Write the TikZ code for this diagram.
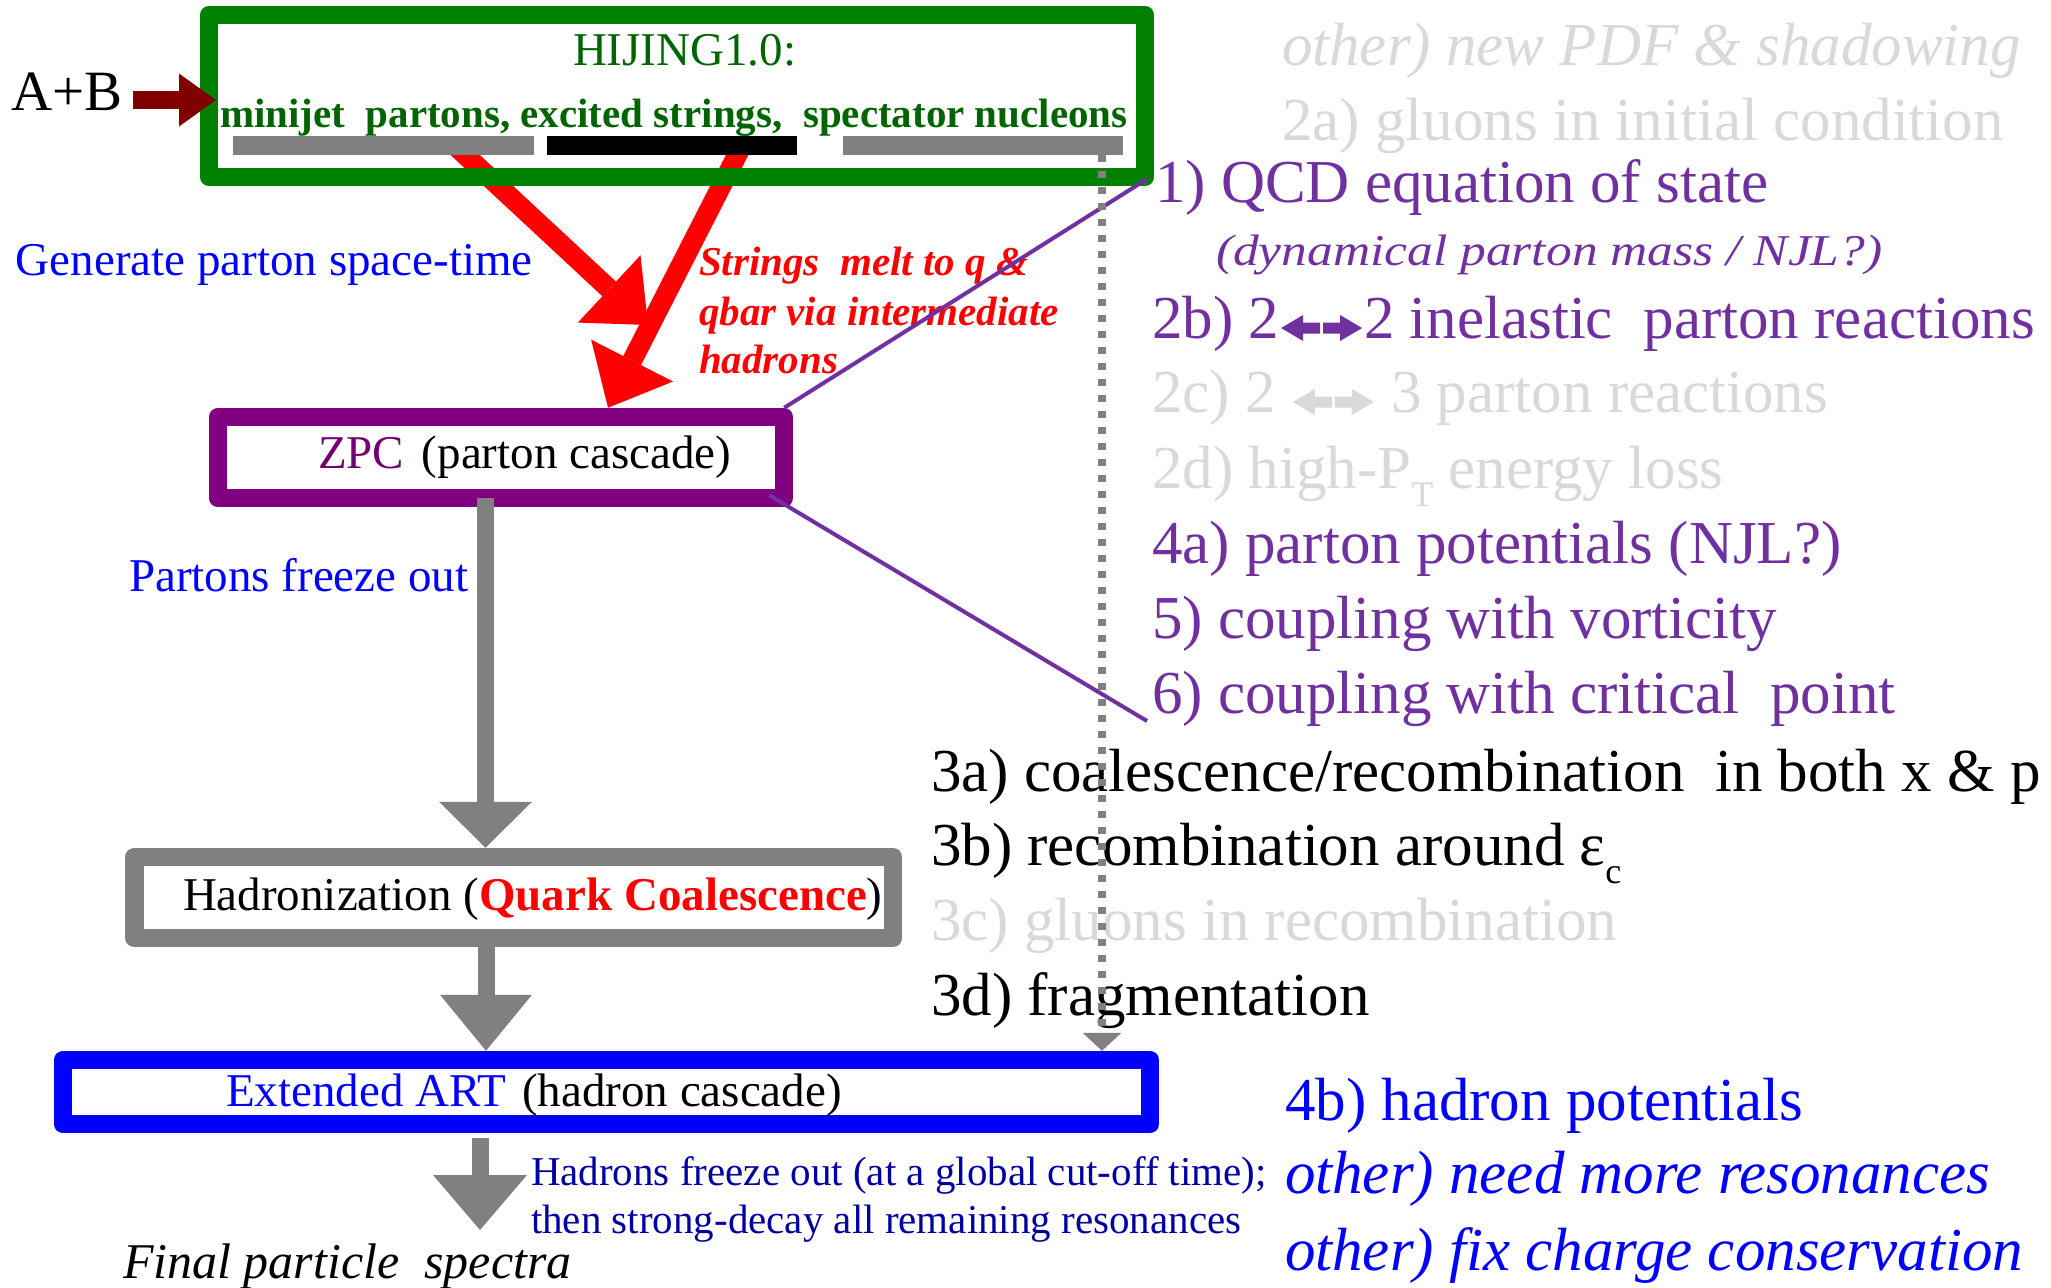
\documentclass[tikz,border=0pt]{standalone}
\usepackage{fontspec}
\setmainfont{Liberation Serif}
\usetikzlibrary{arrows.meta}

\definecolor{hgreen}{RGB}{0,128,0}
\definecolor{htext}{RGB}{0,100,0}
\definecolor{zpurple}{RGB}{128,0,128}
\definecolor{ztext}{RGB}{112,0,112}
\definecolor{lpurple}{RGB}{112,48,160}
\definecolor{lgray}{RGB}{217,217,217}
\definecolor{mgray}{RGB}{128,128,128}
\definecolor{dblue}{RGB}{0,0,160}
\definecolor{maroonA}{RGB}{128,0,0}

\newcommand\sz[1]{\fontsize{#1}{#1}\selectfont}
\newcommand\lowsub[1]{\raisebox{-0.3em}{\sz{18pt}#1}}
% heavy two-way reaction arrow, in the current text colour
\newcommand\twoway{\hspace{1pt}\tikz[baseline=0pt]{%
  \fill (0pt,5pt) -- (11pt,11.5pt) -- (11pt,7.75pt) -- (19.5pt,7.75pt) -- (19.5pt,2.25pt) -- (11pt,2.25pt) -- (11pt,-1.5pt) -- cycle;
  \fill (40.5pt,5pt) -- (29.5pt,11.5pt) -- (29.5pt,7.75pt) -- (21pt,7.75pt) -- (21pt,2.25pt) -- (29.5pt,2.25pt) -- (29.5pt,-1.5pt) -- cycle;}\hspace{1pt}}

\pgfdeclarelayer{background}
\pgfsetlayers{background,main}

\begin{document}
\begin{tikzpicture}[x=0.5pt,y=-0.5pt,
  txt/.style={inner sep=0pt,outer sep=0pt,anchor=base west},
  big/.style={txt,font=\sz{30.5pt}},
  bigit/.style={txt,font=\sz{30.5pt}\itshape},
  mid/.style={txt,font=\sz{23.5pt}},
  stage/.style={draw,line width=9.25pt,line join=round,inner sep=0pt},
  bar/.style={inner sep=0pt,outer sep=0pt,minimum height=9.5pt},
  fat/.style={line width=10pt,red,-{Triangle[width=46pt,length=26.5pt,line width=0pt]}},
  flow/.style={line width=8.5pt,mgray},
  link/.style={lpurple,line width=2pt},
]
\useasboundingbox (0,0) rectangle (2051,1287);

% ---- stage boxes ----
\node[stage,draw=hgreen,minimum width=468pt,minimum height=81pt] (hij) at (677,96) {};
\node[stage,draw=zpurple,fill=white,minimum width=283pt,minimum height=40.5pt] (zpc) at (501,457.5) {};
\node[stage,draw=mgray,fill=white,minimum width=379.25pt,minimum height=40.5pt] (hadr) at (513.75,897.5) {};
\node[stage,draw=blue,fill=white,minimum width=543.5pt,minimum height=32pt] (art) at (606.5,1092) {};

% ---- particle bars inside HIJING ----
\node[bar,fill=mgray,minimum width=150.5pt] (barA) at (383.5,145.5) {};
\node[bar,fill=black,minimum width=125pt] (barB) at (672,145.5) {};
\node[bar,fill=mgray,minimum width=140pt] (barC) at (983,145.5) {};

% ---- free ends ----
\coordinate (gentip) at (648,325);
\coordinate (abtip) at (216,100);
\coordinate (fintip) at (480,1230);
\coordinate (l1end) at (1147,179);
\coordinate (l2end) at (1147,721);

% ---- red arrows out of the bars ----
\begin{pgfonlayer}{background}
\draw[fat] ([xshift=35.75pt]barA.center) -- (gentip);
\draw[fat] ([xshift=35pt]barB.center) -- ([xshift=53.5pt]zpc.north);
\end{pgfonlayer}

% ---- box texts ----
\node[txt,font=\sz{28.5pt}] (ab) at (11,110) {A+B};
\node[mid,text=htext] (hijtxt) at (573,65) {HIJING1.0:};
\node[txt,font=\sz{20.5pt}\bfseries,text=htext] (prods) at (220,127) {minijet\ \ partons, excited strings,\ \ spectator nucleons};
\node[mid] (zpctxt) at (318,468) {\textcolor{ztext}{ZPC}\hspace{3pt} (parton cascade)};
\node[mid] (hadrtxt) at (183,910) {Hadronization (\textcolor{red}{\bfseries Quark Coalescence})};
\node[mid] (arttxt) at (226,1106) {\textcolor{blue}{Extended ART}\hspace{2pt} (hadron cascade)};

% ---- step labels ----
\node[mid,text=blue] (gen) at (16,275) {Generate parton space-time};
\node[txt,font=\sz{20.5pt}\bfseries\itshape,text=red] (melt1) at (699,275) {Strings\ \ melt to q \&};
\node[txt,font=\sz{20.5pt}\bfseries\itshape,text=red] (melt2) at (699,325) {qbar via intermediate};
\node[txt,font=\sz{20.5pt}\bfseries\itshape,text=red] (melt3) at (699,373) {hadrons};
\node[mid,text=blue] (pfo) at (129,591) {Partons freeze out};
\node[txt,font=\sz{20.5pt},text=dblue] (hf1) at (531,1185) {Hadrons freeze out (at a global cut-off time);};
\node[txt,font=\sz{20.5pt},text=dblue] (hf2) at (531,1233) {then strong-decay all remaining resonances};
\node[txt,font=\sz{25pt}\itshape] (final) at (123,1278) {Final particle\ \ spectra};

% ---- list of model improvements ----
\node[bigit,text=lgray] (oth1) at (1282,65) {other) new PDF \& shadowing};
\node[big,text=lgray] (q2a) at (1282,140) {2a) gluons in initial condition};
\node[big,text=lpurple] (q1) at (1155,202) {1) QCD equation of state};
\node[txt,font=\sz{22pt}\itshape,text=lpurple] (q1sub) at (1216,265) {\scalebox{1.17}[1]{(dynamical parton mass / NJL?)}};
\node[big,text=lpurple] (q2b) at (1152,338) {2b) 2\twoway2 inelastic\ \ parton reactions};
\node[big,text=lgray] (q2c) at (1152,412) {2c) 2 \twoway\ 3 parton reactions};
\node[big,text=lgray] (q2d) at (1152,488) {2d) high-P\lowsub{T} energy loss};
\node[big,text=lpurple] (q4a) at (1152,563) {4a) parton potentials (NJL?)};
\node[big,text=lpurple] (q5) at (1152,638) {5) coupling with vorticity};
\node[big,text=lpurple] (q6) at (1152,713) {6) coupling with critical\ \ point};
\node[big] (q3a) at (931,791) {3a) coalescence/recombination\ \ in both x \& p};
\node[big] (q3b) at (931,865) {3b) recombination around ε\lowsub{c}};
\node[big,text=lgray] (q3c) at (931,940) {3c) gluons in recombination};
\node[big] (q3d) at (931,1015) {3d) fragmentation};
\node[big,text=blue] (q4b) at (1285,1120) {4b) hadron potentials};
\node[bigit,text=blue] (oth2) at (1285,1193) {other) need more resonances};
\node[bigit,text=blue] (oth3) at (1285,1270) {other) fix charge conservation};

% ---- flow arrows ----
\draw[line width=9pt,maroonA,-{Triangle[width=26.5pt,length=18.5pt,line width=0pt]}]
  ([xshift=5.5pt]ab.east |- abtip) -- (abtip);
\draw[flow,-{Triangle[width=46.5pt,length=23pt,line width=0pt]}]
  ([xshift=-7.75pt,yshift=4.5pt]zpc.south) -- ([xshift=-7.75pt]zpc.south |- hadr.north);
\draw[flow,-{Triangle[width=46pt,length=28pt,line width=0pt]}]
  ([xshift=-13.875pt]hadr.south) -- ([xshift=-13.875pt]hadr.south |- art.north);
\draw[flow,-{Triangle[width=47pt,length=27.5pt,line width=0pt]}]
  ([xshift=-63.25pt,yshift=-2.5pt]art.south) -- (fintip);

% ---- purple links from ZPC to the parton-phase items ----
\draw[link] ([xshift=-4.5pt]zpc.north east) -- (l1end);
\draw[link] ([xshift=-12pt,yshift=6pt]zpc.south east) -- (l2end);

% ---- spectators go straight to ART ----
\draw[mgray,line width=3.75pt,dash pattern=on 3.5pt off 4.5pt,
      -{Triangle[width=19.5pt,length=9pt,line width=0pt]}]
  ([xshift=59.5pt]barC.south) -- ([xshift=59.5pt]barC.south |- art.north);
\end{tikzpicture}
\end{document}
